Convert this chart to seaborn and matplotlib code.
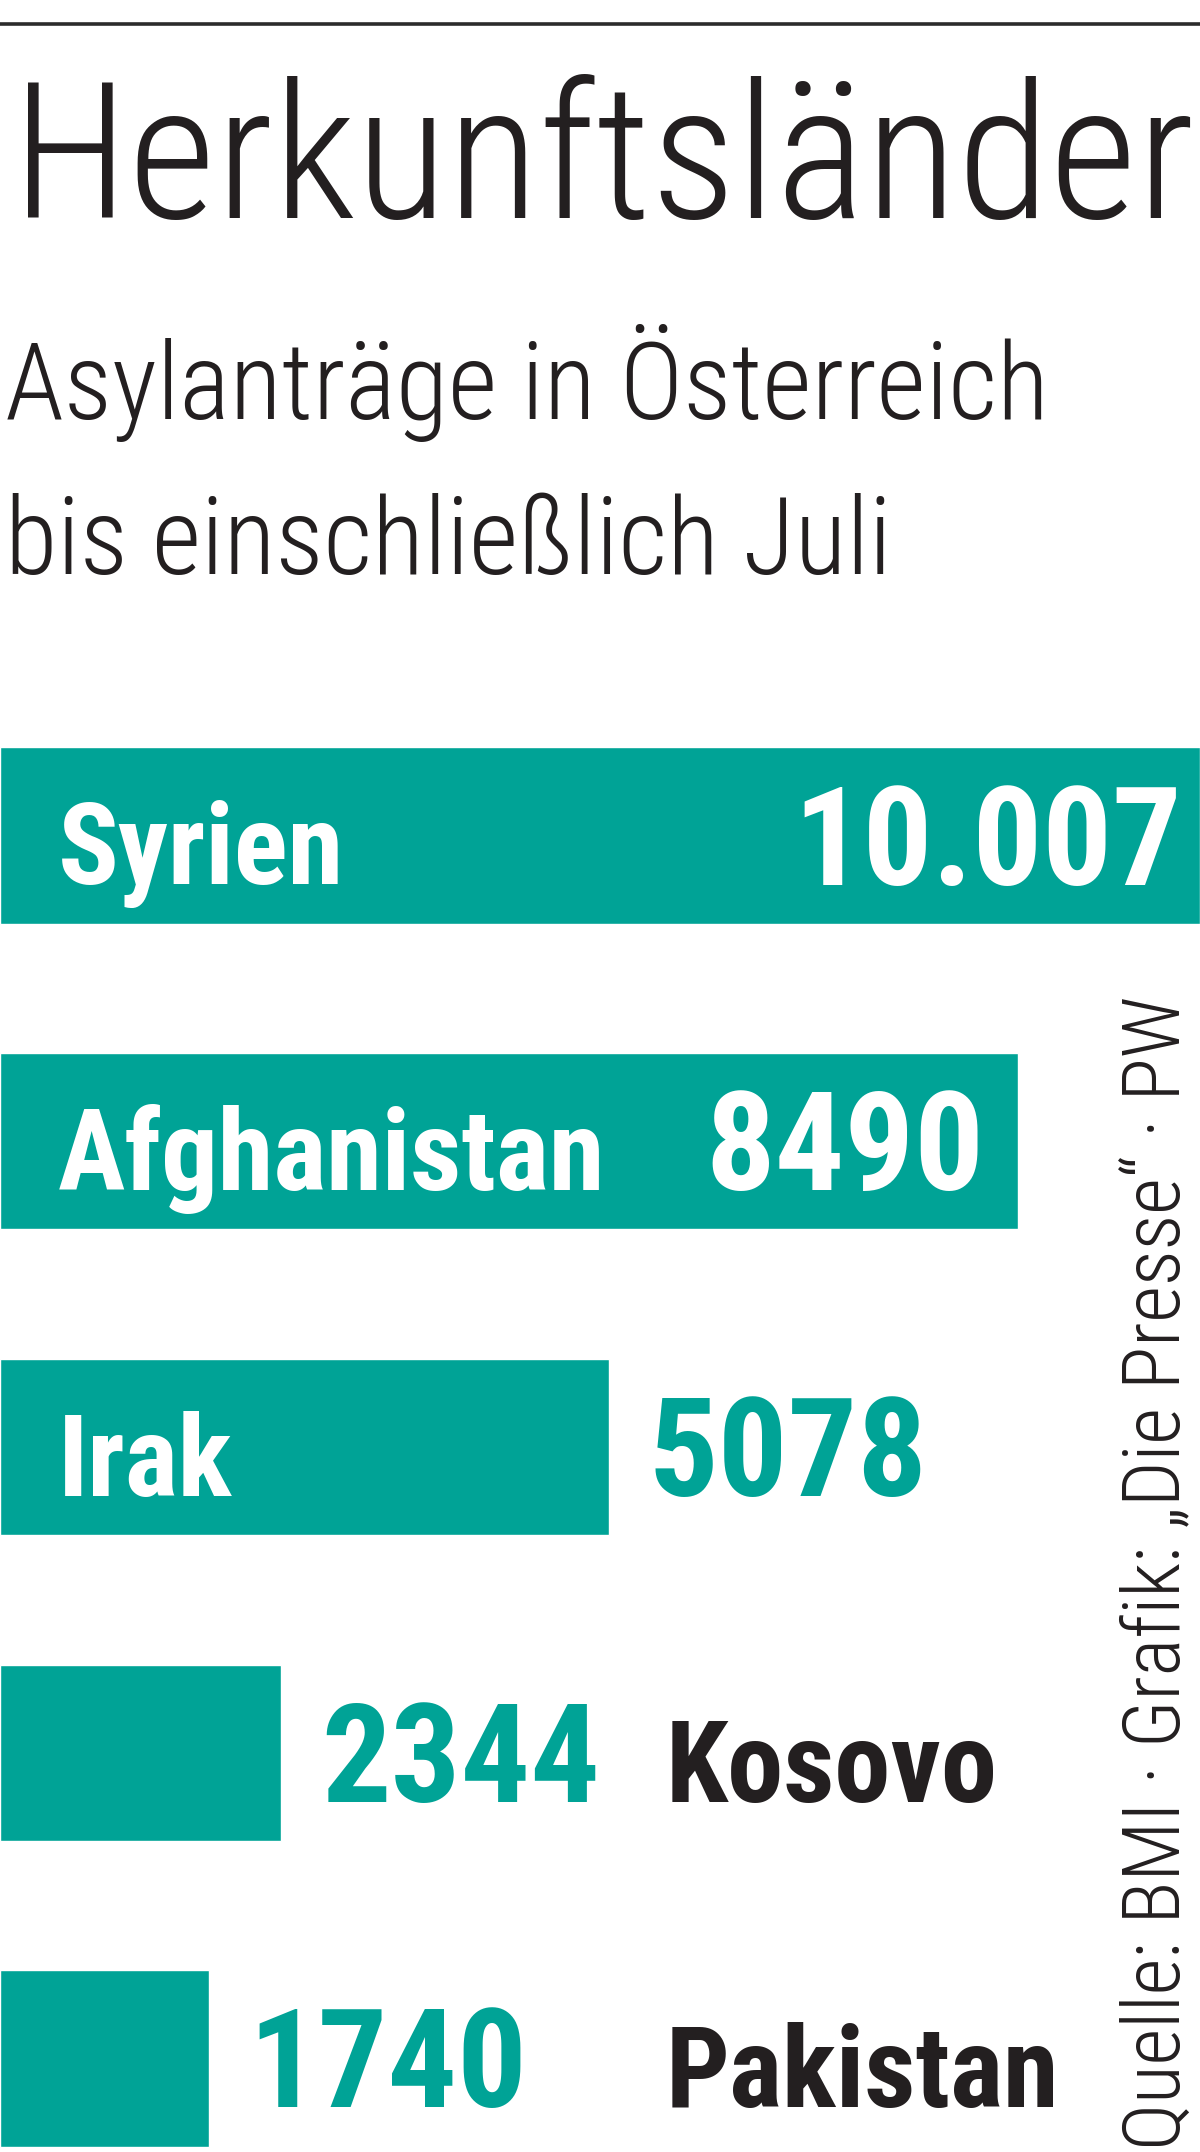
import matplotlib
matplotlib.use("Agg")
import matplotlib.pyplot as plt
import pandas as pd
import seaborn as sns

# Asylanträge in Österreich, Jänner bis Juli
countries = ["Syrien", "Afghanistan", "Irak", "Kosovo", "Pakistan"]
applications = [10007, 8490, 5078, 2344, 1740]
value_labels = ["10.007", "8490", "5078", "2344", "1740"]

title = "Herkunftsländer"
subtitle_lines = ["Asylanträge in Österreich", "bis einschließlich Juli"]
source = "Quelle: BMI · Grafik: „Die Presse“ · PW"

TEAL = "#00a396"
INK = "#231f20"
FONT = ["Roboto Condensed", "DejaVu Sans"]

sns.set_theme(style="white")
plt.rcParams["font.family"] = FONT

W, H = 1200, 2152
fig = plt.figure(figsize=(W / 100, H / 100), dpi=100)
renderer = fig.canvas.get_renderer()


def fit(txt, target_px):
    """scale the font so the text is target_px long (the original font is narrower)"""
    bb = txt.get_window_extent(renderer)
    txt.set_fontsize(txt.get_fontsize() * target_px / max(bb.width, bb.height))
    return txt.get_fontsize()


# bar area: first bar centre 835 px from top, one row every ~306 px
pitch = 305.75
first = 835.5
top = first - pitch / 2
ax = fig.add_axes([0, 0, 1, (H - top) / H])

df = pd.DataFrame({"land": countries, "antraege": applications})
sns.barplot(data=df, x="antraege", y="land", orient="h", color=TEAL,
            saturation=1, width=0.576, ax=ax)
ax.set_xlim(0, max(applications))
ax.set_ylim(len(countries) - 1 + (H - (first + (len(countries) - 1) * pitch)) / pitch, -0.5)
ax.axis("off")

# font sizes for the labels, taken from the widest name and a 4-digit value
probe = fig.text(0, 0, "Afghanistan", fontsize=90, fontweight="bold")
name_size = fit(probe, 548)
probe.remove()
probe = fig.text(0, 0, "8490", fontsize=98, fontweight="bold")
num_size = fit(probe, 279)
probe.remove()

# label layout: name inside the bar for the three big ones
name_inside = [True, True, True, False, False]
value_inside = [True, True, False, False, False]
inner_pad = [18, 34, 0, 0, 0]
base = -49  # baseline offset from bar centre, px

for i, (land, val, lab) in enumerate(zip(countries, applications, value_labels)):
    if name_inside[i]:
        ax.annotate(land, xy=(0, i), xytext=(58, base), textcoords="offset pixels",
                    ha="left", va="baseline", color="white", fontsize=name_size, fontweight="bold")
    else:
        ax.annotate(land, xy=(0, i), xytext=(666, base), textcoords="offset pixels",
                    ha="left", va="baseline", color=INK, fontsize=name_size, fontweight="bold")
    if value_inside[i]:
        ax.annotate(lab, xy=(val, i), xytext=(-inner_pad[i], base), textcoords="offset pixels",
                    ha="right", va="baseline", color="white", fontsize=num_size, fontweight="bold")
    else:
        ax.annotate(lab, xy=(val, i), xytext=(40, base), textcoords="offset pixels",
                    ha="left", va="baseline", color=TEAL, fontsize=num_size, fontweight="bold")

# header
fig.add_artist(plt.Line2D([0, 1], [1 - 24 / H, 1 - 24 / H], color="#2b2b2b", lw=2.6))
t = fig.text(12 / W, 1 - 218 / H, title, fontsize=144, fontweight="light",
             ha="left", va="baseline", color=INK)
fit(t, 1183)
subs = [fig.text(5 / W, 1 - (419 + 155 * k) / H, line, fontsize=93, fontweight="light",
                 ha="left", va="baseline", color=INK)
        for k, line in enumerate(subtitle_lines)]
sub_size = fit(subs[0], 1043)
subs[1].set_fontsize(sub_size)

s = fig.text(1197 / W, 1 - 2150 / H, source, rotation=90, fontsize=53, fontweight="light",
             ha="right", va="bottom", color=INK)
fit(s, 1157)

fig.savefig("out.png", dpi=100)
